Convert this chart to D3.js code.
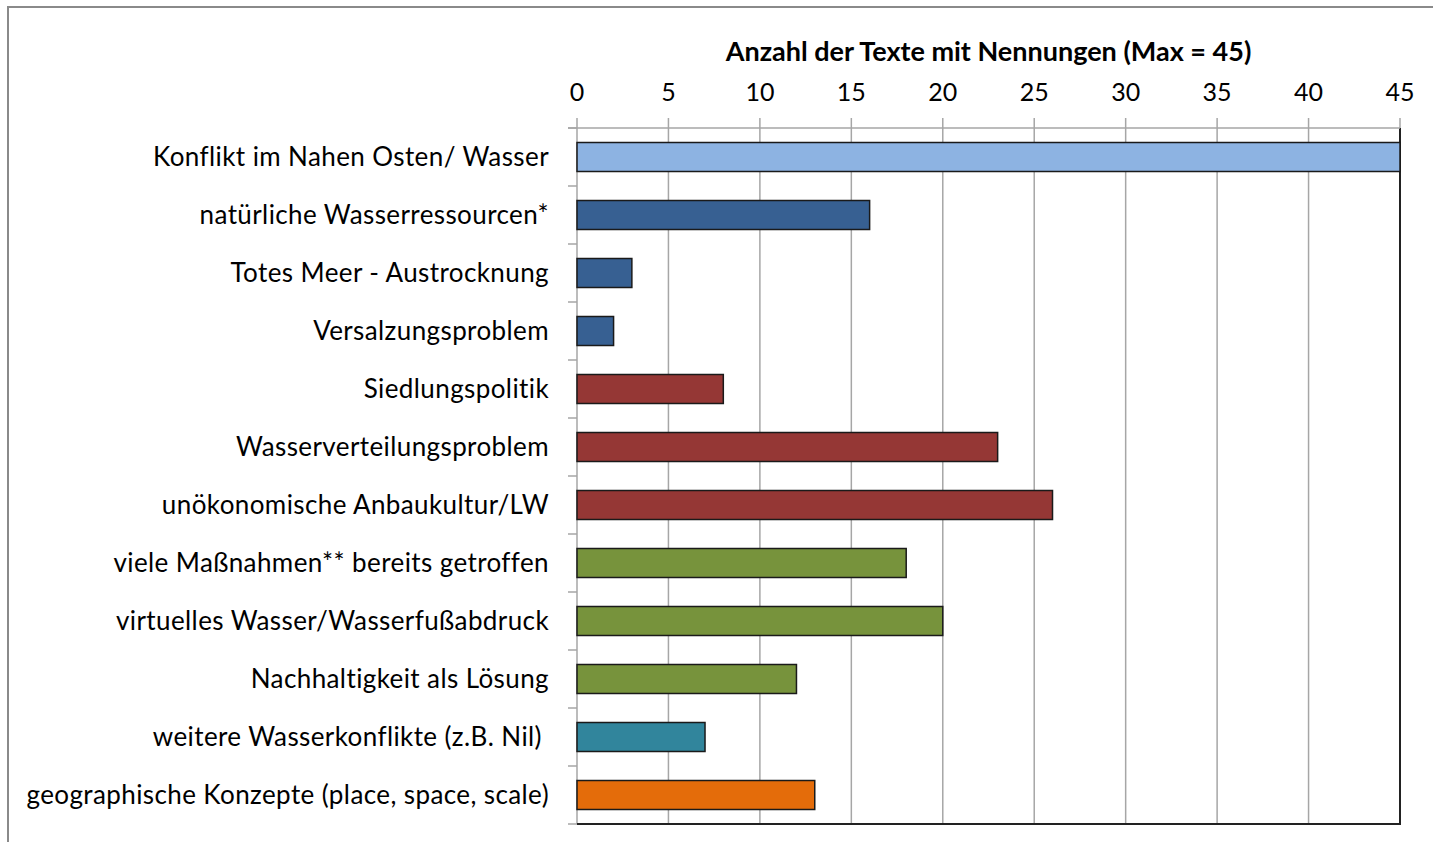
<!DOCTYPE html>
<html>
<head>
<meta charset="utf-8">
<title>Anzahl der Texte mit Nennungen</title>
<script src="https://d3js.org/d3.v7.min.js"></script>
<style>
body { margin: 0; background: white; font-family: "Lato", "Open Sans", sans-serif; }
text { font-variant-ligatures: none; white-space: pre; }
</style>
</head>
<body>
<script>
// chart values
var categories = [
  "Konflikt im Nahen Osten/ Wasser",
  "natürliche Wasserressourcen*",
  "Totes Meer - Austrocknung",
  "Versalzungsproblem",
  "Siedlungspolitik",
  "Wasserverteilungsproblem",
  "unökonomische Anbaukultur/LW",
  "viele Maßnahmen** bereits getroffen",
  "virtuelles Wasser/Wasserfußabdruck",
  "Nachhaltigkeit als Lösung",
  "weitere Wasserkonflikte (z.B. Nil) ",
  "geographische Konzepte (place, space, scale)"
];
var values = [45, 16, 3, 2, 8, 23, 26, 18, 20, 12, 7, 13];
var barColors = ["#8db3e2", "#376092", "#376092", "#376092", "#953735", "#953735",
  "#953735", "#77933c", "#77933c", "#77933c", "#31859c", "#e46c0a"];
var tickValues = [0, 5, 10, 15, 20, 25, 30, 35, 40, 45];
var axisTitle = "Anzahl der Texte mit Nennungen (Max = 45)";

var width = 1433, height = 842;
var plotLeft = 577, plotRight = 1400, plotTop = 128, plotBottom = 824;

var svg = d3.select("body").append("svg")
  .attr("width", width)
  .attr("height", height);

// outer frame
svg.append("rect")
  .attr("x", 8).attr("y", 7)
  .attr("width", width + 10).attr("height", height + 10)
  .attr("fill", "none").attr("stroke", "#8a8a8a").attr("stroke-width", 2);

var x = d3.scaleLinear().domain([0, 45]).range([plotLeft, plotRight]);
var y = d3.scaleBand().domain(categories).range([plotTop, plotBottom]).paddingInner(0.5).paddingOuter(0.25);

// gridlines + top ticks
svg.append("g").selectAll("line")
  .data(tickValues)
  .enter().append("line")
  .attr("x1", function(d) { return x(d); })
  .attr("x2", function(d) { return x(d); })
  .attr("y1", plotTop - 10)
  .attr("y2", plotBottom)
  .attr("stroke", "#a6a6a6")
  .attr("stroke-width", 1.5);

// right edge of plot area (dark)
svg.append("line")
  .attr("x1", plotRight).attr("x2", plotRight)
  .attr("y1", plotTop).attr("y2", plotBottom)
  .attr("stroke", "#222").attr("stroke-width", 2);

// top axis line
svg.append("line")
  .attr("x1", plotLeft - 9).attr("x2", plotRight)
  .attr("y1", plotTop).attr("y2", plotTop)
  .attr("stroke", "#a6a6a6").attr("stroke-width", 1.5);

// category tick marks on the left
var step = (plotBottom - plotTop) / categories.length;
svg.append("g").selectAll("line")
  .data(d3.range(categories.length + 1))
  .enter().append("line")
  .attr("x1", plotLeft - 9).attr("x2", plotLeft)
  .attr("y1", function(i) { return plotTop + i * step; })
  .attr("y2", function(i) { return plotTop + i * step; })
  .attr("stroke", "#a6a6a6").attr("stroke-width", 1.5);

// bottom line
svg.append("line")
  .attr("x1", plotLeft).attr("x2", plotRight + 1)
  .attr("y1", plotBottom).attr("y2", plotBottom)
  .attr("stroke", "#222").attr("stroke-width", 2);

// bars
svg.append("g").selectAll("rect")
  .data(values)
  .enter().append("rect")
  .attr("x", x(0))
  .attr("y", function(d, i) { return y(categories[i]); })
  .attr("width", function(d) { return x(d) - x(0); })
  .attr("height", y.bandwidth())
  .attr("fill", function(d, i) { return barColors[i]; })
  .attr("stroke", "#1a1a1a")
  .attr("stroke-width", 1.5);

// category labels
svg.append("g").selectAll("text")
  .data(categories)
  .enter().append("text")
  .attr("x", 549)
  .attr("y", function(d) { return y(d) + y.bandwidth() / 2; })
  .attr("dy", "0.35em")
  .attr("text-anchor", "end")
  .attr("font-size", 26)
  .attr("letter-spacing", 0.4)
  .attr("fill", "#000")
  .text(function(d) { return d; });

// tick labels
svg.append("g").selectAll("text")
  .data(tickValues)
  .enter().append("text")
  .attr("x", function(d) { return x(d); })
  .attr("y", 92)
  .attr("dy", "0.35em")
  .attr("text-anchor", "middle")
  .attr("font-size", 25)
  .text(function(d) { return d; });

// axis title
svg.append("text")
  .attr("x", (plotLeft + plotRight) / 2)
  .attr("y", 52)
  .attr("dy", "0.35em")
  .attr("text-anchor", "middle")
  .attr("font-size", 27)
  .attr("font-weight", "bold")
  .text(axisTitle);
</script>
</body>
</html>
